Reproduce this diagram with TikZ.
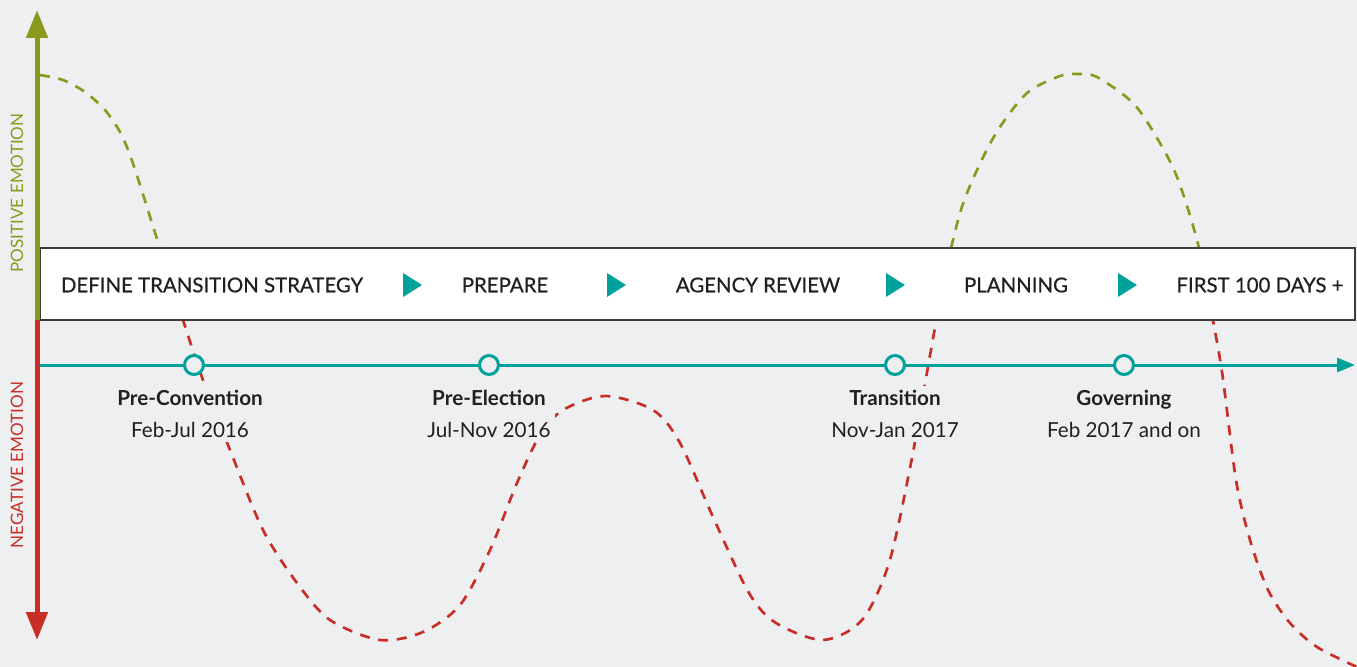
\documentclass[tikz,border=0pt]{standalone}
\usepackage{fontspec}
\setmainfont{Lato}
\newfontfamily\medium[FakeBold=0.6]{Lato}
\usetikzlibrary{arrows.meta, calc}

\definecolor{bggray}{RGB}{238,239,241}
\definecolor{posgreen}{RGB}{138,154,30}
\definecolor{negred}{RGB}{200,46,38}
\definecolor{tealline}{RGB}{0,161,154}
\definecolor{darktext}{RGB}{35,31,32}
\definecolor{boxline}{RGB}{60,60,62}

\begin{document}
\begin{tikzpicture}[x=0.75pt, y=-0.75pt]
\tikzset{
  phase/.style={font=\medium\fontsize{15.3}{18}\selectfont, text=darktext, inner sep=0},
  milestone/.style={circle, draw=tealline, line width=2.25pt, fill=bggray,
                    minimum size=14.25pt, inner sep=0},
  stage/.style={align=center, fill=bggray, text=darktext, inner sep=3pt,
                font=\fontsize{15.5}{24}\selectfont},
  axislabel/.style={rotate=90, font=\fontsize{12.8}{14}\selectfont, inner sep=0},
  emotion/.style={dash pattern=on 7.5pt off 6.5pt, line width=2pt}
  };

\def\emocurve{plot[smooth] coordinates {(40,75) (63,80) (85,92) (105,110)
  (120,132) (130,155) (140,185) (158,242) (183,320) (203,380) (230,450)
  (263,530) (297,583) (330,620) (380,640) (423,632) (460,605) (490,550)
  (517,483) (540,435) (563,410) (605,396) (653,410) (680,443) (713,517)
  (749,593) (776,623) (823,640) (862,620) (889,563) (911,463) (926,378)
  (943,285) (960,213) (977,170) (998,130) (1027,93) (1060,76) (1077,74)
  (1097,77) (1133,103) (1157,138) (1177,177) (1197,240) (1210,305)
  (1222,372) (1236,480) (1250,540) (1268,590) (1290,623) (1317,647)
  (1357,667)}}

\fill[bggray] (0,0) rectangle (1357,667);

% emotion curve
\begin{scope}
\clip (0,0) rectangle (1357,284);
\draw[emotion, posgreen] \emocurve;
\end{scope}
\begin{scope}
\clip (0,284) rectangle (1357,667);
\draw[emotion, negred] \emocurve;
\end{scope}

% phases
\draw[boxline, line width=1.2pt, fill=white] (40,248) rectangle (1355,320);
\node[phase] (define)   at (212,285)  {DEFINE TRANSITION STRATEGY};
\node[phase] (prepare)  at (505,285)  {PREPARE};
\node[phase] (review)   at (758,285)  {AGENCY REVIEW};
\node[phase] (planning) at (1016,285) {PLANNING};
\node[phase] (first)    at (1260,285) {FIRST 100 DAYS +};
\foreach \x in {412,616,895,1127}
  \fill[tealline] (\x-9,273) -- (\x+10,285) -- (\x-9,297) -- cycle;

% emotion axis
\coordinate (top) at (37,10);
\coordinate (mid) at (37,320);
\coordinate (bot) at (37,640);
\draw[posgreen, line width=3.75pt, -{Triangle[length=21pt, width=15.75pt]}] (mid) -- (top);
\draw[negred, line width=3.75pt, -{Triangle[length=21pt, width=15.75pt]}] (mid) -- (bot);
\node[axislabel, text=posgreen] (pos) at (17,193) {POSITIVE EMOTION};
\node[axislabel, text=negred]   (neg) at (17,465) {NEGATIVE EMOTION};

% timeline
\coordinate (start) at (40,365);
\coordinate (end)   at (1355,365);
\draw[tealline, line width=2.25pt, -{Triangle[length=13.5pt, width=10.5pt]}] (start) -- (end);

\node[milestone] (conv)  at (194,365)  {};
\node[milestone] (elect) at (489,365)  {};
\node[milestone] (trans) at (895,365)  {};
\node[milestone] (gov)   at (1124,365) {};

\node[stage] (convlabel)  at (190,414)  {\textbf{Pre-Convention}\\Feb-Jul 2016};
\node[stage] (electlabel) at (489,414)  {\textbf{Pre-Election}\\Jul-Nov 2016};
\node[stage] (translabel) at (895,414)  {\textbf{Transition}\\Nov-Jan 2017};
\node[stage] (govlabel)   at (1124,414) {\textbf{Governing}\\Feb 2017 and on};

\end{tikzpicture}
\end{document}
